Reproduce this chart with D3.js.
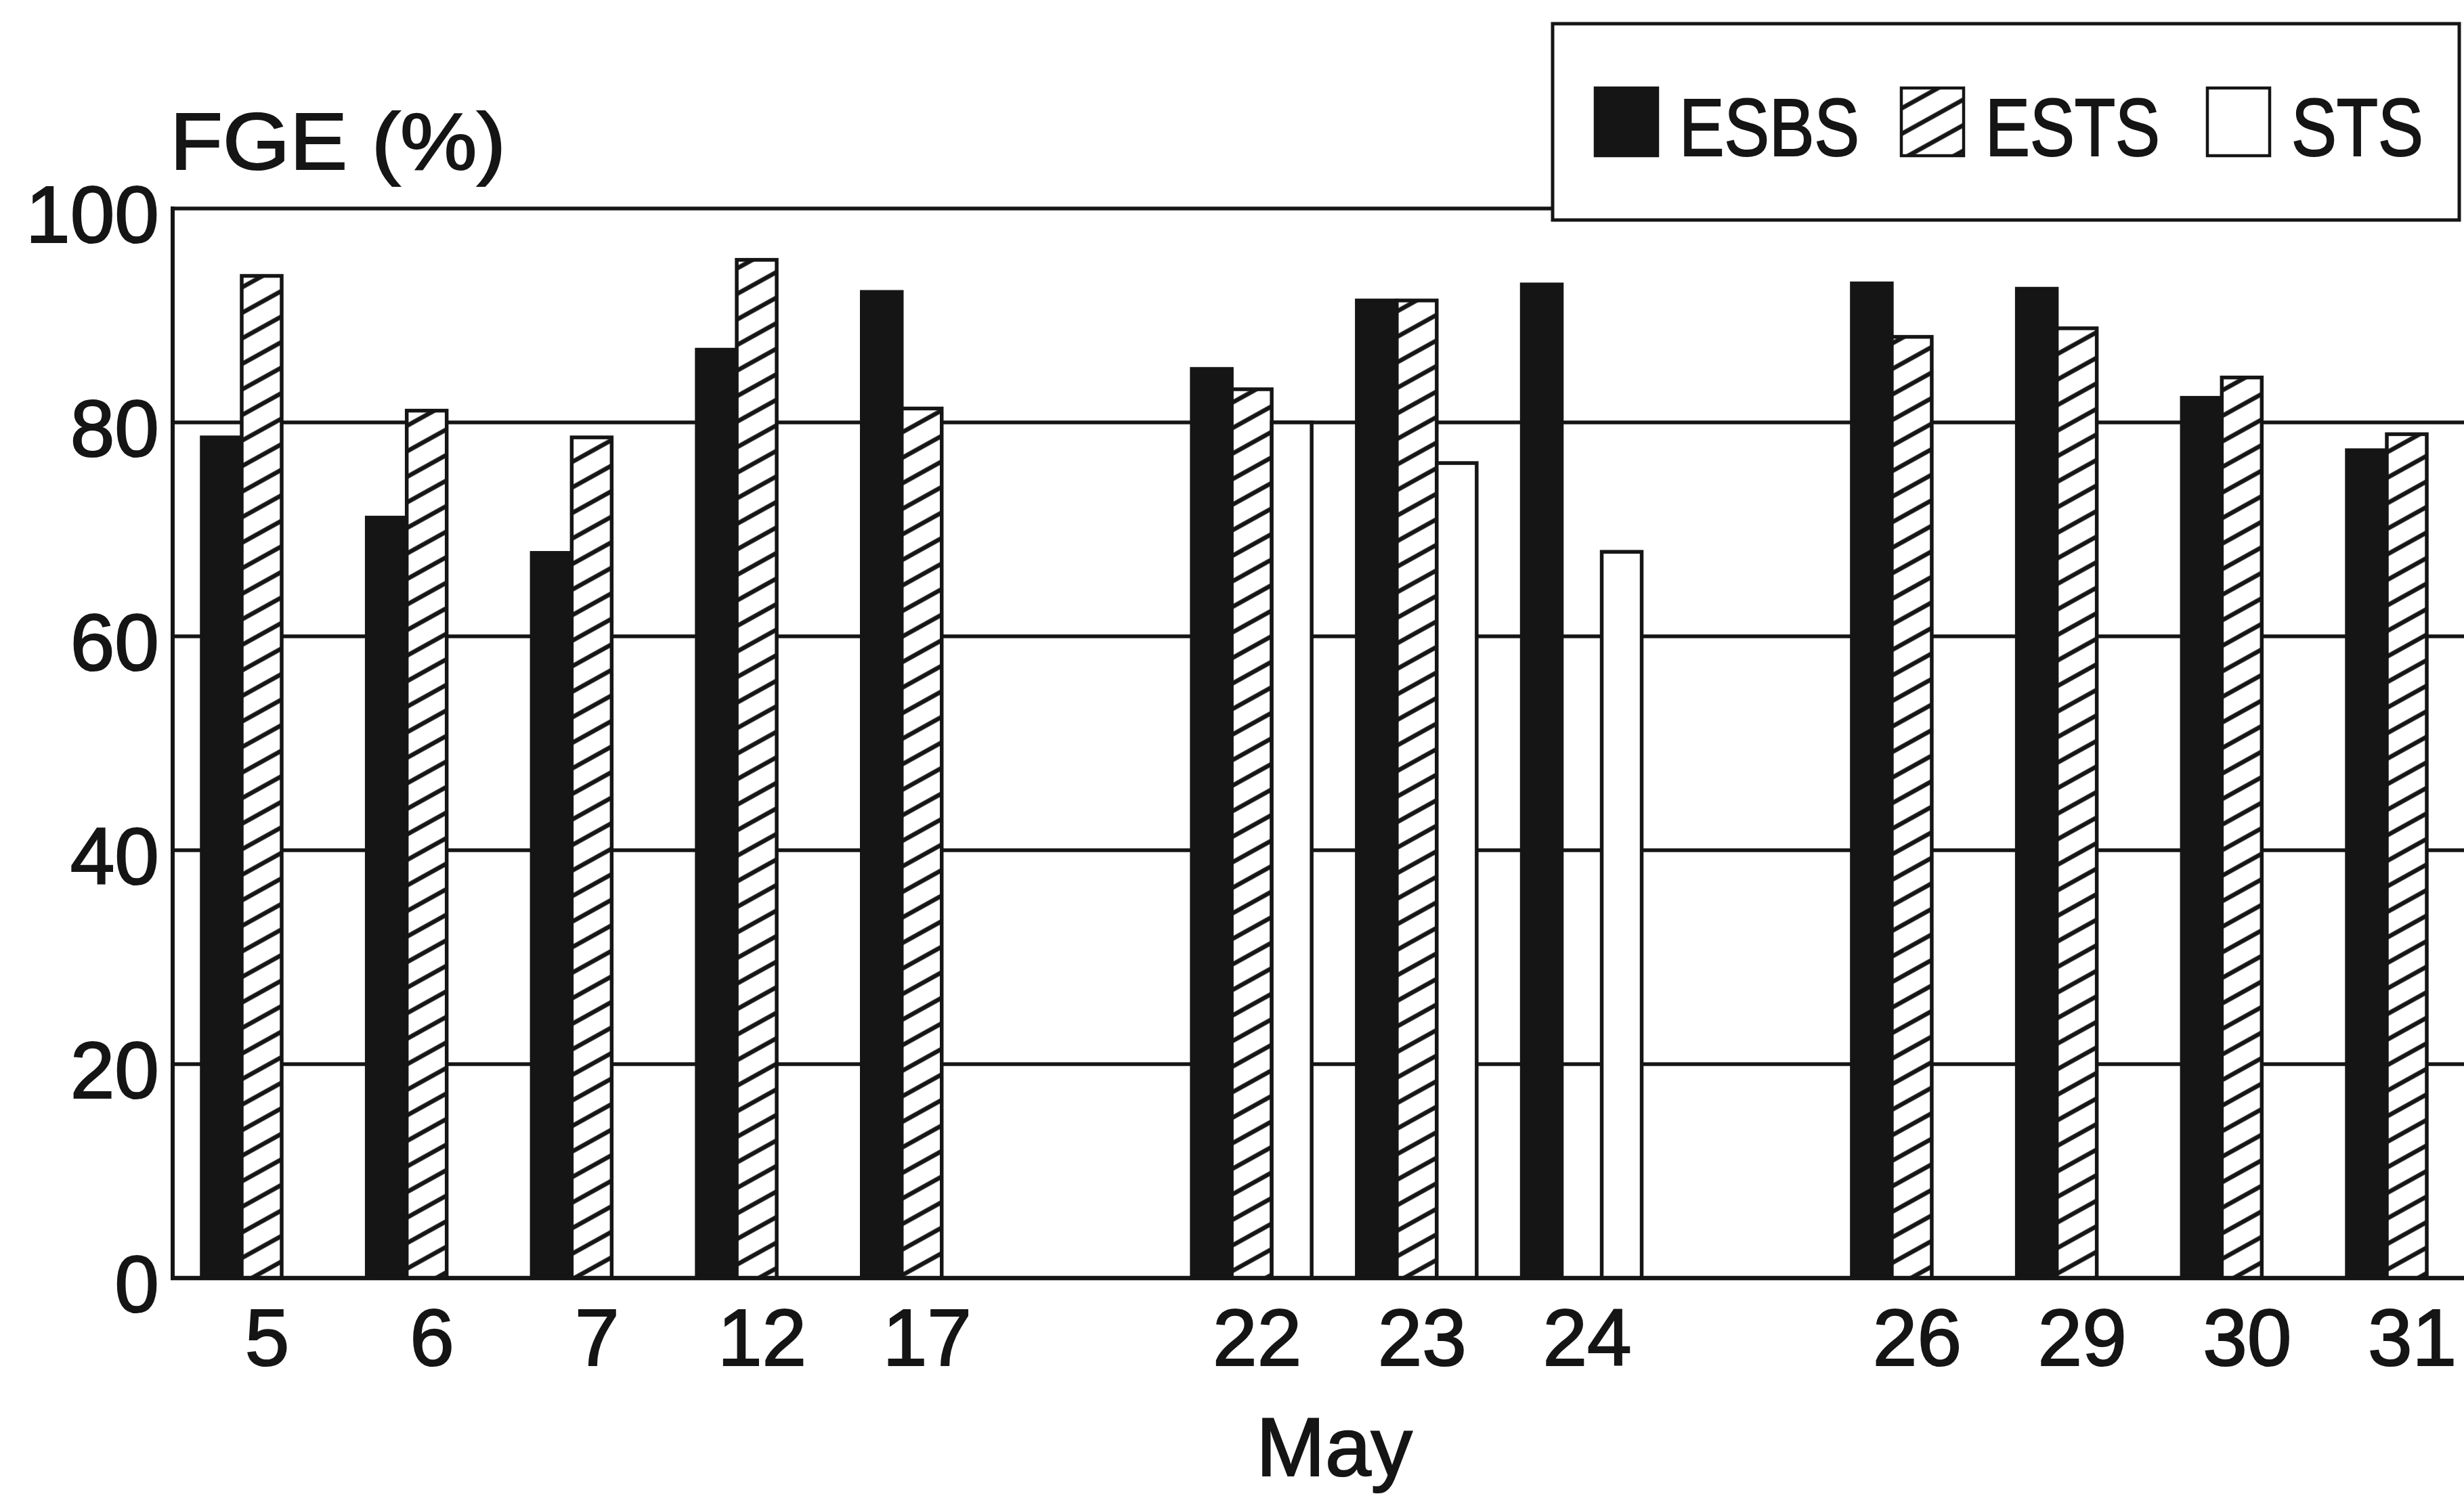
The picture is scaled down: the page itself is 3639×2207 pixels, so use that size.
<!DOCTYPE html>
<html>
<head>
<meta charset="utf-8">
<script src="https://cdn.jsdelivr.net/npm/d3@7"></script>
<style>
  html, body { margin: 0; padding: 0; background: #ffffff; }
  svg { display: block; }
  text { font-family: "Liberation Sans", Arial, Helvetica, sans-serif; fill: #151515; stroke: #151515; stroke-width: 2.2px; }
</style>
</head>
<body>
<svg id="chart" width="3639" height="2207"></svg>
<script>
// ---- data ----
const xLabels = ["5", "6", "7", "12", "17", "", "22", "23", "24", "", "26", "29", "30", "31"];
const seriesNames = ["ESBS", "ESTS", "STS"];
const esbsValues = [78.6, 71.1, 67.8, 86.8, 92.2, null, 85.0, 91.4, 92.9, null, 93.0, 92.5, 82.3, 77.4];
const estsValues = [93.7, 81.1, 78.6, 95.2, 81.3, null, 83.1, 91.4, null, null, 88.0, 88.8, 84.2, 78.9];
const stsValues  = [null, null, null, null, null, null, 80.0, 76.2, 67.9, null, null, null, null, null];
const yTicks = [0, 20, 40, 60, 80, 100];
const yTitle = "FGE (%)";
const xTitle = "May";

const W = 3639, H = 2207;
const ink = "#151515";
const svg = d3.select("#chart");
svg.append("rect").attr("width", W).attr("height", H).attr("fill", "#ffffff");

const plotLeft = 255, plotRight = 3686;
const y = d3.scaleLinear().domain([0, 100]).range([1888, 308]);
const x = d3.scaleBand().domain(d3.range(xLabels.length)).range([plotLeft, plotRight])
  .paddingInner(0.2737).paddingOuter(0.1764);
const xs = d3.scaleBand().domain(seriesNames).range([0, x.bandwidth()]);

// hatch pattern
const defs = svg.append("defs");
const P = 33;
const pat = defs.append("pattern").attr("id", "hatch").attr("patternUnits", "userSpaceOnUse")
  .attr("width", P).attr("height", P).attr("patternTransform", "rotate(-29)");
pat.append("rect").attr("width", P).attr("height", P).attr("fill", "#ffffff");
pat.append("line").attr("x1", -2).attr("x2", P + 2).attr("y1", P / 2).attr("y2", P / 2)
  .attr("stroke", ink).attr("stroke-width", 6.5);

// gridlines
svg.append("g").selectAll("line").data(yTicks.filter(t => t > 0 && t < 100)).join("line")
  .attr("x1", plotLeft).attr("x2", W).attr("y1", d => y(d)).attr("y2", d => y(d))
  .attr("stroke", ink).attr("stroke-width", 5.5);

// top frame line (at 100) until legend box
const legendX = 2293, legendY = 35, legendW = 1339, legendH = 290;
svg.append("line").attr("x1", plotLeft).attr("x2", legendX).attr("y1", y(100)).attr("y2", y(100))
  .attr("stroke", ink).attr("stroke-width", 5.5);

// bars
const seriesData = [
  { name: "ESBS", values: esbsValues, fill: ink, stroke: ink },
  { name: "ESTS", values: estsValues, fill: "url(#hatch)", stroke: ink },
  { name: "STS", values: stsValues, fill: "#ffffff", stroke: ink }
];
const barsG = svg.append("g");
seriesData.forEach(s => {
  barsG.append("g").selectAll("rect")
    .data(s.values.map((v, i) => ({ i, v })).filter(d => d.v !== null))
    .join("rect")
    .attr("x", d => x(d.i) + xs(s.name))
    .attr("y", d => y(d.v))
    .attr("width", xs.bandwidth())
    .attr("height", d => y(0) - y(d.v))
    .attr("fill", s.fill)
    .attr("stroke", s.stroke)
    .attr("stroke-width", 5.5);
});

// axes lines
svg.append("line").attr("x1", plotLeft).attr("x2", plotLeft).attr("y1", y(100) - 3).attr("y2", y(0) + 3)
  .attr("stroke", ink).attr("stroke-width", 6);
svg.append("line").attr("x1", plotLeft - 3).attr("x2", W).attr("y1", y(0)).attr("y2", y(0))
  .attr("stroke", ink).attr("stroke-width", 6.5);

// y axis labels
const yAxis = svg.append("g").attr("transform", `translate(${plotLeft},0)`)
  .call(d3.axisLeft(y).tickValues(yTicks).tickSize(0).tickPadding(20).tickFormat(d3.format("d")));
yAxis.select(".domain").remove();
yAxis.selectAll("text").attr("font-size", 118).attr("dy", "0.42em")
  .attr("font-family", "'Liberation Sans', Arial, sans-serif").attr("fill", ink);

// x axis labels
const xAxis = svg.append("g").attr("transform", `translate(0,${y(0)})`)
  .call(d3.axisBottom(x).tickSize(0).tickPadding(45).tickFormat(i => xLabels[i]));
xAxis.select(".domain").remove();
xAxis.selectAll("text").attr("font-size", 118).attr("dx", 8)
  .attr("font-family", "'Liberation Sans', Arial, sans-serif").attr("fill", ink);

// titles
svg.append("text").attr("x", 251).attr("y", 250).attr("font-size", 118)
  .attr("textLength", 496).attr("lengthAdjust", "spacingAndGlyphs").text(yTitle);
svg.append("text").attr("x", (plotLeft + plotRight) / 2).attr("y", 2180).attr("text-anchor", "middle")
  .attr("font-size", 122).text(xTitle);

// legend
svg.append("rect").attr("x", legendX).attr("y", legendY).attr("width", legendW).attr("height", legendH)
  .attr("fill", "#ffffff").attr("stroke", ink).attr("stroke-width", 5);
const legendStep = 452, swW = 92, swH = 100, swTop = 130, textW = [266, 258, 195];
seriesData.forEach((s, k) => {
  const sx = 2356 + k * legendStep;
  svg.append("rect").attr("x", sx).attr("y", swTop).attr("width", swW).attr("height", swH)
    .attr("fill", s.fill).attr("stroke", ink).attr("stroke-width", 4.5);
  svg.append("text").attr("x", sx + 124).attr("y", 230).attr("font-size", 120)
    .attr("textLength", textW[k]).attr("lengthAdjust", "spacingAndGlyphs").text(s.name);
});
</script>
</body>
</html>
